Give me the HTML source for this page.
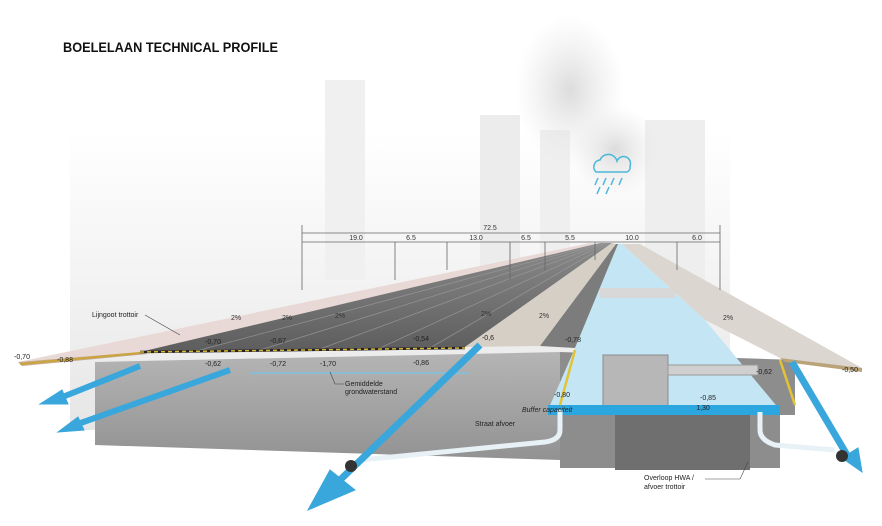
<!DOCTYPE html>
<html><head><meta charset="utf-8">
<style>
html,body{margin:0;padding:0;background:#fff;}
svg{display:block;font-family:"Liberation Sans",sans-serif;}
</style></head><body>
<svg width="882" height="526" viewBox="0 0 882 526" xmlns="http://www.w3.org/2000/svg">
<defs>
<linearGradient id="bg" x1="0" y1="0" x2="0" y2="1">
<stop offset="0" stop-color="#ffffff"/><stop offset="0.5" stop-color="#f3f3f3"/><stop offset="1" stop-color="#e6e6e6"/>
</linearGradient>
<linearGradient id="ground" x1="0" y1="0" x2="0" y2="1">
<stop offset="0" stop-color="#b5b5b5"/><stop offset="1" stop-color="#929292"/>
</linearGradient>
<linearGradient id="road" x1="0" y1="1" x2="0" y2="0">
<stop offset="0" stop-color="#5d5d5d"/><stop offset="1" stop-color="#8a8a8a"/>
</linearGradient>
<radialGradient id="smoke" cx="0.5" cy="0.5" r="0.5">
<stop offset="0" stop-color="#dcdcdc"/><stop offset="1" stop-color="#e8e8e8" stop-opacity="0"/>
</radialGradient>
</defs>
<rect width="882" height="526" fill="#fff"/>
<rect x="70" y="130" width="660" height="300" fill="url(#bg)"/>
<rect x="325" y="80" width="40" height="200" fill="#f0f0f0"/>
<rect x="480" y="115" width="40" height="160" fill="#ececec"/>
<rect x="540" y="130" width="30" height="150" fill="#efefef"/>
<rect x="645" y="120" width="60" height="160" fill="#eeeeee"/>
<ellipse cx="570" cy="90" rx="55" ry="75" fill="url(#smoke)"/>
<ellipse cx="615" cy="150" rx="45" ry="45" fill="url(#smoke)"/>
<text x="63" y="52" font-size="13.5" font-weight="bold" fill="#111" textLength="215" lengthAdjust="spacingAndGlyphs">BOELELAAN TECHNICAL PROFILE</text>
<g stroke="#4ab8d8" fill="none" stroke-width="1.5">
<path d="M596 172 a7 7 0 0 1 4-12 a9 9 0 0 1 17 1 a6 6 0 0 1 13 5 a5 5 0 0 1 -3 6 z"/>
<path d="M598 178 l-3 7 M606 178 l-3 7 M614 178 l-3 7 M622 178 l-3 7 M600 187 l-3 7 M609 187 l-3 7"/>
</g>
<polygon points="95,362 560,352 560,460 95,445" fill="url(#ground)"/>
<polygon points="560,352 795,360 795,415 780,415 780,468 560,468" fill="#8d8d8d"/>
<rect x="615" y="415" width="135" height="55" fill="#6f6f6f"/>
<polygon points="18,362 140,352 600,245 590,243" fill="#e9d9d6"/>
<polygon points="18,362 140,352 148,354 22,366" fill="#c8a98f"/>
<polygon points="140,352 465,347 612,243 600,243" fill="url(#road)"/>
<g stroke="#9a9a9a" stroke-width="0.8" opacity="0.8">
<line x1="200" y1="350" x2="602" y2="243"/><line x1="260" y1="350" x2="604" y2="243"/>
<line x1="320" y1="349" x2="606" y2="243"/><line x1="380" y1="348" x2="608" y2="243"/>
<line x1="430" y1="348" x2="610" y2="243"/>
</g>
<polygon points="465,347 540,346 616,244 612,243" fill="#d6cfc5"/>
<polygon points="540,346 575,348 620,244 616,244" fill="#7c7c7c"/>
<polygon points="575,348 548,410 780,410 705,320 622,244 618,244" fill="#c4e6f4"/>
<rect x="603" y="355" width="65" height="55" fill="#b7b7b7" stroke="#8b8b8b"/>
<rect x="668" y="365" width="90" height="10" fill="#cfcfcf" stroke="#999"/>
<rect x="600" y="288" width="75" height="10" fill="#d8d8d8"/>
<rect x="548" y="405" width="232" height="10" fill="#2ba6de"/>
<polygon points="622,244 705,320 780,358 862,368 640,244" fill="#dcd6d1"/>
<polygon points="780,358 862,368 862,372 785,362" fill="#b9a47a"/>
<polyline points="140,352 465,348" stroke="#222" stroke-width="2.5" fill="none"/>
<polyline points="140,352 465,348" stroke="#d8b838" stroke-width="1.5" stroke-dasharray="4 3" fill="none"/>
<polyline points="20,364 140,353" stroke="#c9a53a" stroke-width="2" fill="none"/>
<line x1="575" y1="350" x2="560" y2="405" stroke="#e3c335" stroke-width="2.5"/>
<line x1="780" y1="360" x2="795" y2="405" stroke="#e3c335" stroke-width="2.5"/>
<line x1="250" y1="373" x2="470" y2="373" stroke="#7fc3df" stroke-width="2" opacity="0.8"/>
<g stroke="#e8f2f6" stroke-width="5" fill="none">
<path d="M560 410 L560 430 Q560 440 545 442 L360 460"/>
<path d="M760 412 L760 430 Q760 440 775 445 L835 450"/>
</g>
<g stroke="#3aa7dc" fill="#3aa7dc">
<line x1="140" y1="366" x2="60" y2="398" stroke-width="6"/>
<polygon points="40,404 62,390 68,404"/>
<line x1="230" y1="370" x2="75" y2="425" stroke-width="6"/>
<polygon points="58,432 78,417 84,430"/>
<line x1="480" y1="345" x2="340" y2="480" stroke-width="7"/>
<polygon points="308,510 330,470 355,490"/>
<line x1="792" y1="362" x2="850" y2="460" stroke-width="7"/>
<polygon points="862,472 842,458 858,448"/>
</g>
<circle cx="351" cy="466" r="6" fill="#333"/>
<circle cx="842" cy="456" r="6" fill="#333"/>
<g stroke="#666" stroke-width="0.8" fill="none">
<line x1="302" y1="233" x2="720" y2="233"/>
<line x1="302" y1="242" x2="720" y2="242"/>
<line x1="302" y1="225" x2="302" y2="290"/>
<line x1="395" y1="242" x2="395" y2="280"/>
<line x1="447" y1="242" x2="447" y2="270"/>
<line x1="510" y1="242" x2="510" y2="280"/>
<line x1="545" y1="242" x2="545" y2="270"/>
<line x1="595" y1="242" x2="595" y2="260"/>
<line x1="677" y1="242" x2="677" y2="270"/>
<line x1="720" y1="225" x2="720" y2="290"/>
</g>
<g font-size="7" fill="#333" text-anchor="middle">
<text x="490" y="230">72.5</text>
<text x="356" y="240">19.0</text><text x="411" y="240">6.5</text>
<text x="476" y="240">13.0</text><text x="526" y="240">6.5</text>
<text x="570" y="240">5.5</text><text x="632" y="240">10.0</text>
<text x="697" y="240">6.0</text>
<text x="236" y="320">2%</text><text x="287" y="320">2%</text>
<text x="340" y="318">2%</text><text x="486" y="316">2%</text>
<text x="544" y="318">2%</text><text x="728" y="320">2%</text>
</g>
<g font-size="7" fill="#222">
<text x="92" y="317">Lijngoot trottoir</text>
<path d="M145 315 L180 335" stroke="#444" stroke-width="0.6" fill="none"/>
<text x="345" y="386">Gemiddelde</text><text x="345" y="394">grondwaterstand</text>
<path d="M330 372 L335 384 L344 384" stroke="#444" stroke-width="0.6" fill="none"/>
<text x="475" y="426">Straat afvoer</text>
<text x="522" y="412" font-style="italic">Buffer capaciteit</text>
<text x="644" y="480">Overloop HWA /</text><text x="644" y="489">afvoer trottoir</text>
<path d="M705 479 L740 479 L748 462" stroke="#444" stroke-width="0.6" fill="none"/>
</g>
<g font-size="7" fill="#222" text-anchor="middle">
<text x="22" y="359">-0,70</text><text x="65" y="362">-0,88</text>
<text x="213" y="344">-0,70</text><text x="278" y="343">-0,67</text>
<text x="421" y="341">-0,54</text><text x="488" y="340">-0,6</text>
<text x="573" y="342">-0,78</text>
<text x="213" y="366">-0,62</text><text x="278" y="366">-0,72</text>
<text x="328" y="366">-1,70</text><text x="421" y="365">-0,86</text>
<text x="562" y="397">-0,80</text><text x="708" y="400">-0,85</text>
<text x="703" y="410">1,30</text><text x="764" y="374">-0,62</text>
<text x="850" y="372">-0,50</text>
</g>
</svg>
</body></html>
